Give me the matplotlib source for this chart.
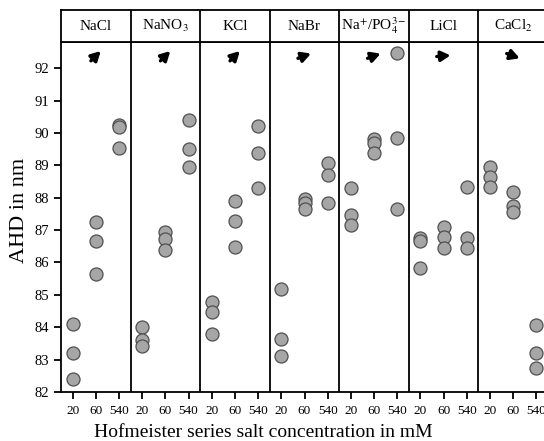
import numpy as np
import matplotlib.pyplot as plt
from matplotlib.transforms import offset_copy

# AHD (nm) measured for each salt at 20, 60 and 540 mM, three repeats each
salts = ['NaCl', r'NaNO$_3$', 'KCl', 'NaBr', r'Na$^{+}$/PO$_4^{3-}$', 'LiCl', r'CaCl$_2$']
conc_labels = ['20', '60', '540']

nacl = [[84.1, 83.2, 82.4], [87.25, 86.65, 85.65], [90.25, 90.2, 89.55]]
nano3 = [[84.02, 83.6, 83.43], [86.93, 86.72, 86.4], [90.4, 89.51, 88.96]]
kcl = [[84.78, 84.47, 83.78], [87.9, 87.29, 86.48], [90.22, 89.39, 88.3]]
nabr = [[85.18, 83.64, 83.11], [87.97, 87.83, 87.65], [89.07, 88.71, 87.85]]
napo4 = [[88.3, 87.48, 87.16], [89.81, 89.7, 89.38], [92.48, 89.86, 87.66]]
licl = [[86.77, 86.67, 85.83], [87.09, 86.8, 86.46], [88.32, 86.75, 86.44]]
cacl2 = [[88.94, 88.64, 88.32], [88.19, 87.76, 87.56], [84.06, 83.2, 82.73]]
all_data = [nacl, nano3, kcl, nabr, napo4, licl, cacl2]

# trend arrow direction (degrees) for each salt
trend_angle = [45, 45, 45, 20, 20, 5, -20]

plt.rcParams['font.family'] = 'Liberation Serif'
plt.rcParams['mathtext.fontset'] = 'stix'

fig = plt.figure(figsize=(5.44, 4.41), dpi=100)
ax = fig.add_axes([61 / 544, 49 / 441, 487 / 544, 350 / 441])
hdr = fig.add_axes([61 / 544, 399 / 441, 487 / 544, 32 / 441])

n = len(salts)
for i, salt_vals in enumerate(all_data):
    for j, reps in enumerate(salt_vals):
        x = np.full(len(reps), i * 3 + j + 0.5)
        ax.scatter(x, reps, s=88, facecolor='#a6a6a6', edgecolor='#505050',
                   linewidth=0.9, zorder=3, clip_on=False)

for k in range(1, n):
    ax.axvline(k * 3, color='black', lw=1.3)
    hdr.axvline(k * 3, color='black', lw=1.3)

# trend arrows near the top of each panel
for i, ang in enumerate(trend_angle):
    cx, cy = i * 3 + 1.5, 92.38
    dx = 5 * np.cos(np.radians(ang))
    dy = 5 * np.sin(np.radians(ang))
    tip = offset_copy(ax.transData, fig=fig, x=dx, y=dy, units='points')
    ax.annotate('', xy=(cx, cy), xycoords=tip,
                xytext=(-2 * dx, -2 * dy), textcoords='offset points',
                arrowprops=dict(arrowstyle='-|>,head_length=0.55,head_width=0.3',
                                color='black', lw=2.4, shrinkA=0, shrinkB=0))

ax.set_xlim(0, n * 3)
ax.set_ylim(82, 92.81)
ax.set_xticks([i * 3 + j + 0.5 for i in range(n) for j in range(3)])
ax.set_xticklabels(conc_labels * n, fontsize=9.5)
ax.set_yticks(range(82, 93))
ax.tick_params(axis='y', labelsize=10.5, length=5, width=1.3, direction='out')
ax.tick_params(axis='x', length=5, width=1.3, direction='out', pad=4)
ax.spines['right'].set_visible(False)
for sp in ['left', 'bottom', 'top']:
    ax.spines[sp].set_linewidth(1.3)

hdr.set_xlim(0, n * 3)
hdr.set_ylim(0, 1)
hdr.set_xticks([])
hdr.set_yticks([])
hdr.spines['right'].set_visible(False)
for sp in ['left', 'bottom', 'top']:
    hdr.spines[sp].set_linewidth(1.3)
for i, name in enumerate(salts):
    hdr.text(i * 3 + 1.5, 0.5, name, ha='center', va='center', fontsize=11)

fig.text(20 / 544, 1 - 210 / 441, 'AHD in nm', rotation=90, ha='center',
         va='center', fontsize=16)
fig.text(263 / 544, 1 - 437 / 441, 'Hofmeister series salt concentration in mM',
         ha='center', va='baseline', fontsize=14)

fig.savefig('out.png', dpi=100)
